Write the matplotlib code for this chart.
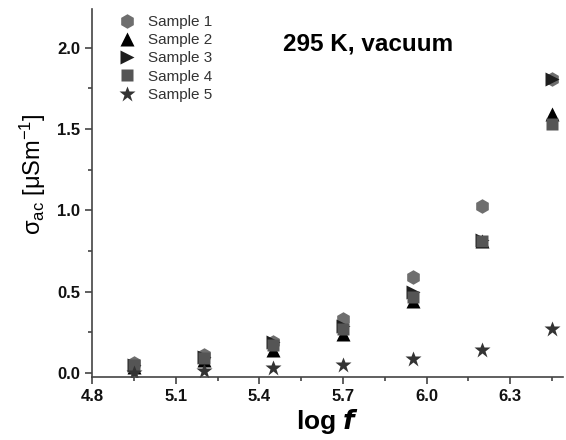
import matplotlib
matplotlib.use("Agg")
import matplotlib.pyplot as plt
from matplotlib.ticker import MultipleLocator

plt.rcParams['font.family'] = ['Liberation Sans', 'DejaVu Sans']
plt.rcParams['mathtext.fontset'] = 'custom'
plt.rcParams['mathtext.rm'] = 'Liberation Sans'
plt.rcParams['mathtext.it'] = 'Liberation Sans:italic'
plt.rcParams['mathtext.bf'] = 'Liberation Sans:bold'

log_f = [4.95, 5.2, 5.45, 5.7, 5.95, 6.2, 6.45]
sample1 = [0.06, 0.11, 0.19, 0.33, 0.59, 1.03, 1.81]
sample2 = [0.04, 0.08, 0.14, 0.24, 0.44, 0.81, 1.59]
sample3 = [0.05, 0.10, 0.19, 0.29, 0.50, 0.82, 1.81]
sample4 = [0.05, 0.09, 0.17, 0.27, 0.47, 0.81, 1.53]
sample5 = [0.003, 0.01, 0.03, 0.05, 0.085, 0.14, 0.27]
labels = ["Sample 1", "Sample 2", "Sample 3", "Sample 4", "Sample 5"]

fig = plt.figure(figsize=(5.66, 4.40), dpi=100)
ax = fig.add_axes([0.163, 0.143, 0.832, 0.837])

ax.plot(log_f, sample1, 'h', color='#6e6e6e', ms=10.5, mec='none', label=labels[0])
ax.plot(log_f, sample2, '^', color='#000000', ms=10.5, mec='none', label=labels[1])
ax.plot(log_f, sample3, '>', color='#1e1e1e', ms=10.5, mec='none', label=labels[2])
ax.plot(log_f, sample4, 's', color='#555555', ms=9, mec='none', label=labels[3])
ax.plot(log_f, sample5, '*', color='#333333', ms=12, mec='none', label=labels[4])

ax.set_xlim(4.8, 6.49)
ax.set_ylim(-0.025, 2.24)
ax.xaxis.set_minor_locator(MultipleLocator(0.15))
ax.yaxis.set_minor_locator(MultipleLocator(0.25))
ax.set_xticks([4.8, 5.1, 5.4, 5.7, 6.0, 6.3])
ax.set_xticklabels(['4.8', '5.1', '5.4', '5.7', '6.0', '6.3'])
ax.set_yticks([0.0, 0.5, 1.0, 1.5, 2.0])
ax.set_yticklabels(['0.0', '0.5', '1.0', '1.5', '2.0'])

for s in ['top', 'right']:
    ax.spines[s].set_visible(False)
for s in ['left', 'bottom']:
    ax.spines[s].set_color('#444444')
    ax.spines[s].set_linewidth(1.2)

ax.tick_params(which='major', direction='out', length=5, width=1.2, color='#444444',
               labelsize=12, labelcolor='#111111')
ax.tick_params(which='minor', direction='out', length=3, width=1.2, color='#444444')
for t in ax.get_xticklabels() + ax.get_yticklabels():
    t.set_fontweight('bold')

ax.set_xlabel(r'log $\mathbfit{f}$', fontsize=19, fontweight='bold', labelpad=2)
ax.set_ylabel('σ$_{\\mathrm{ac}}$ [μSm$^{\\mathrm{-1}}$]', fontsize=17)
ax.yaxis.set_label_coords(-0.095, 0.55)

ax.text(5.79, 2.025, '295 K, vacuum', fontsize=17.5, fontweight='bold', ha='center', va='center')

leg = ax.legend(loc='upper left', frameon=False, fontsize=11, handletextpad=0.6,
                labelspacing=0.28, borderaxespad=0.0, bbox_to_anchor=(0.035, 1.0),
                handlelength=1.6)
for t in leg.get_texts():
    t.set_color('#333333')

fig.savefig('out.png', dpi=100)
